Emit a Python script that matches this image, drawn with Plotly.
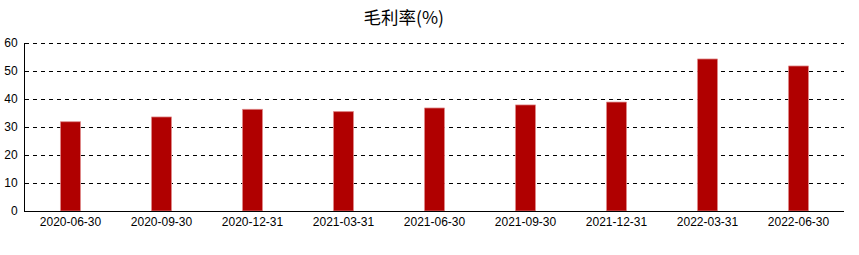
import plotly.graph_objects as go

categories = ["2020-06-30", "2020-09-30", "2020-12-31", "2021-03-31", "2021-06-30",
              "2021-09-30", "2021-12-31", "2022-03-31", "2022-06-30"]
gross_margin = [31.9, 33.6, 36.3, 35.5, 36.8, 37.9, 38.9, 54.3, 51.8]
y_ticks = [0, 10, 20, 30, 40, 50, 60]

fig = go.Figure()
fig.add_trace(go.Bar(
    x=categories, y=gross_margin, width=0.22,
    marker=dict(color="#b00000", line=dict(color="#e08a8a", width=0.8)),
))
fig.update_layout(
    width=859, height=255,
    margin=dict(l=25, r=15, t=43, b=44),
    paper_bgcolor="white", plot_bgcolor="white",
    showlegend=False,
    font=dict(family="Liberation Sans, Arial, sans-serif", size=12, color="#000"),
    title=dict(text="毛利率(%)", x=0.47, xanchor="center", y=0.93, yanchor="middle",
               font=dict(family="Noto Sans CJK SC, Liberation Sans, sans-serif", size=17.5, color="#000")),
)
fig.add_shape(type="line", xref="paper", yref="y", x0=0, x1=1,
              ysizemode="pixel", yanchor=y_ticks[-1], y0=-0.5, y1=-0.5,
              line=dict(color="#000", width=1, dash="4px,4px"), layer="below")
fig.update_xaxes(type="category", showline=True, linecolor="#000", linewidth=1,
                 showgrid=False, ticks="", tickfont=dict(size=12), automargin=False)
fig.update_yaxes(range=[0, 60], tickvals=y_ticks, showline=True, linecolor="#000", linewidth=1,
                 showgrid=True, gridcolor="#000", gridwidth=1, griddash="4px,4px",
                 zeroline=False, ticks="", tickfont=dict(size=12), ticklabelstandoff=4,
                 automargin=False)
fig.write_html("out.html")
